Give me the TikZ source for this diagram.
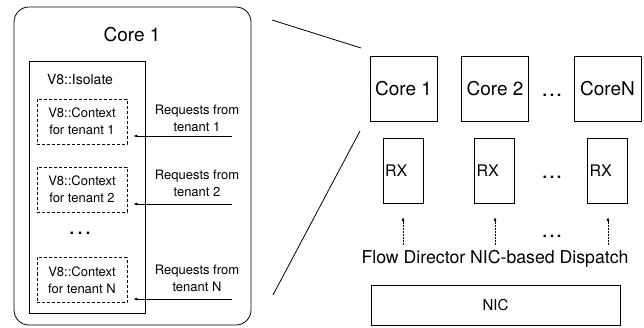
\documentclass[tikz,border=0pt]{standalone}
\usepackage{fontspec}
\setmainfont{TeX Gyre Heros}
\usetikzlibrary{arrows.meta}
\newcommand{\mydots}[1]{.\hspace{#1}.\hspace{#1}.}
\begin{document}
\begin{tikzpicture}[x=1pt,y=-1pt,
  box/.style={draw, line width=0.8pt, inner sep=0pt},
  ctx/.style={draw, line width=0.7pt, dash pattern=on 3pt off 2pt, inner sep=0pt,
     minimum width=90pt, minimum height=45pt, align=center, font=\fontsize{13}{17}\selectfont},
  lbl/.style={inner sep=0pt, align=center, font=\fontsize{13}{17}\selectfont},
  req/.style={-{Latex[length=4pt,width=3pt]}, line width=0.7pt},
  dot/.style={-{Latex[length=4pt,width=3pt]}, line width=0.7pt, dash pattern=on 1.5pt off 1.5pt},
  core/.style={box, minimum width=67pt, minimum height=65pt, font=\fontsize{19}{22}\selectfont},
  rx/.style={box, minimum height=65pt, text width=36pt, inner xsep=2pt, align=left, font=\fontsize{16}{18}\selectfont},
  dots/.style={inner sep=0pt, font=\fontsize{16}{18}\selectfont\bfseries}]
\useasboundingbox (0,0) rectangle (644,328);

% left detail
\node[box, rounded corners=15pt, minimum width=237pt, minimum height=318pt] (outer) at (132.5,166) {};
\node[inner sep=0pt, font=\fontsize{19}{22}\selectfont] (t1) at (132,35) {Core 1};
\node[box, minimum width=116pt, minimum height=252pt] (iso) at (87,187) {};
\node[inner sep=0pt, font=\fontsize{14}{16}\selectfont] (tiso) at (80,80) {V8::Isolate};
\node[ctx] (c1) at (82,121.5) {V8::Context\\for tenant 1};
\node[ctx] (c2) at (82,189.5) {V8::Context\\for tenant 2};
\node[ctx] (c3) at (82,280) {V8::Context\\for tenant N};
\node[dots] (ldots) at (80,233) {\mydots{3.6pt}};

\node[lbl] (l1) at (197,118) {Requests from\\tenant 1};
\node[lbl] (l2) at (197,183) {Requests from\\tenant 2};
\node[lbl] (l3) at (197,278) {Requests from\\tenant N};
\coordinate (r1) at (232,136);
\coordinate (r2) at (232,204);
\coordinate (r3) at (232,299);
\draw[req] (r1) -- ([xshift=6pt]c1.east |- r1);
\draw[req] (r2) -- ([xshift=6pt]c2.east |- r2);
\draw[req] (r3) -- ([xshift=6pt]c3.east |- r3);

% right overview
\node[core] (k1) at (403.5,88.5) {Core 1};
\node[core] (k2) at (495,88.5) {Core 2};
\node[core] (k3) at (607.5,88.5) {CoreN};
\node[dots] (kd) at (552,95) {\mydots{2.6pt}};

\node[rx] (x1) at (403,170.5) {RX};
\node[rx] (x2) at (494.5,170.5) {RX};
\node[rx] (x3) at (607.5,170.5) {RX};
\node[dots] (xd) at (552,177) {\mydots{2.6pt}};

\coordinate (d1) at (403,245);
\coordinate (d2) at (495,245);
\coordinate (d3) at (608,245);
\draw[dot] (d1) -- (d1 |- {(0,217)});
\draw[dot] (d2) -- (d2 |- {(0,217)});
\draw[dot] (d3) -- (d3 |- {(0,217)});
\node[dots] (dd) at (552,236) {\mydots{2.6pt}};

\node[inner sep=0pt, font=\fontsize{17.7}{20}\selectfont] (flow) at (495,259) {Flow Director NIC-based Dispatch};
\node[box, minimum width=249pt, minimum height=40pt, font=\fontsize{15}{17}\selectfont] (nic) at (495.5,305) {NIC};

% zoom lines
\coordinate (za) at (272,20);
\coordinate (zb) at (361,48);
\coordinate (zc) at (360,131);
\coordinate (zd) at (273,295);
\draw[line width=0.8pt] (za) -- (zb);
\draw[line width=0.8pt] (zc) -- (zd);
\end{tikzpicture}
\end{document}
